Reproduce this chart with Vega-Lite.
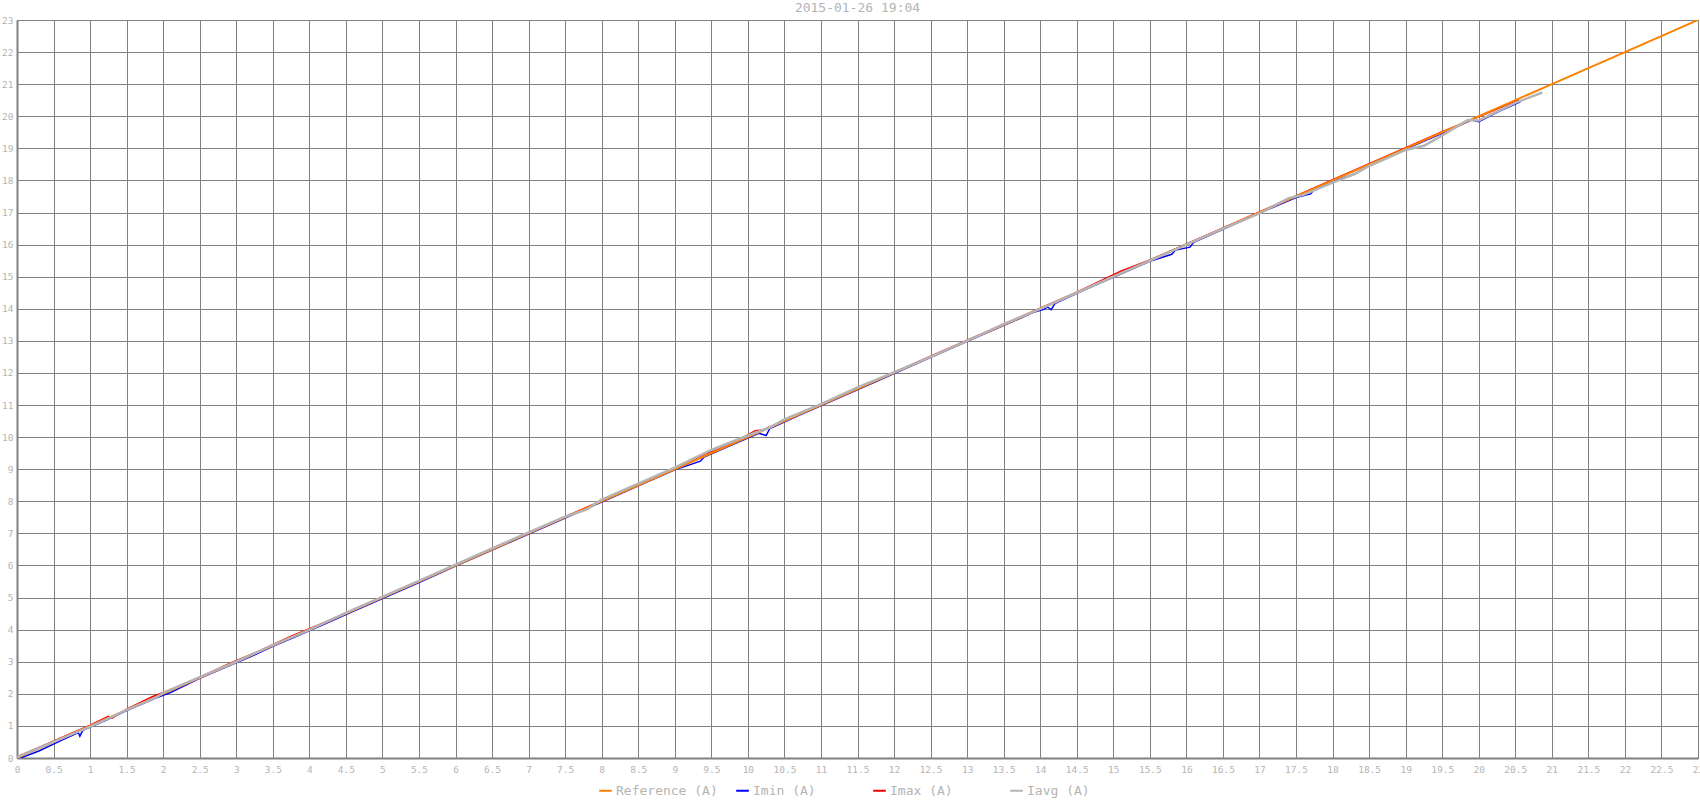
{
  "$schema": "https://vega.github.io/schema/vega-lite/v6.json",
  "autosize": "none",
  "width": 1681,
  "height": 738,
  "padding": {"left": 17, "top": 20, "right": 2, "bottom": 42},
  "title": {"text": "2015-01-26 19:04", "anchor": "middle", "offset": 0, "fontSize": 13, "fontWeight": "normal", "font": "DejaVu Sans Mono", "color": "#b4b4b4"},
  "config": {
    "view": {"stroke": "#808080", "strokeWidth": 1},
    "axis": {"labelFont": "DejaVu Sans Mono", "labelFontSize": 9.5, "labelColor": "#b4b4b4", "gridColor": "#808080", "gridOpacity": 1, "gridWidth": 1, "domainColor": "#808080", "domainWidth": 2, "ticks": false, "title": null},
    "legend": {"labelFont": "DejaVu Sans Mono", "labelFontSize": 13, "labelColor": "#b4b4b4"}
  },
  "data": {"values": [
    {"s": "Reference (A)", "x": 0, "y": 0}, {"s": "Reference (A)", "x": 1, "y": 1}, {"s": "Reference (A)", "x": 2, "y": 2}, {"s": "Reference (A)", "x": 3, "y": 3},
    {"s": "Reference (A)", "x": 4, "y": 4}, {"s": "Reference (A)", "x": 5, "y": 5}, {"s": "Reference (A)", "x": 6, "y": 6}, {"s": "Reference (A)", "x": 7, "y": 7},
    {"s": "Reference (A)", "x": 8, "y": 8}, {"s": "Reference (A)", "x": 9, "y": 9}, {"s": "Reference (A)", "x": 10, "y": 10}, {"s": "Reference (A)", "x": 11, "y": 11},
    {"s": "Reference (A)", "x": 12, "y": 12}, {"s": "Reference (A)", "x": 13, "y": 13}, {"s": "Reference (A)", "x": 14, "y": 14}, {"s": "Reference (A)", "x": 15, "y": 15},
    {"s": "Reference (A)", "x": 16, "y": 16}, {"s": "Reference (A)", "x": 17, "y": 17}, {"s": "Reference (A)", "x": 18, "y": 18}, {"s": "Reference (A)", "x": 19, "y": 19},
    {"s": "Reference (A)", "x": 20, "y": 20}, {"s": "Reference (A)", "x": 21, "y": 21}, {"s": "Reference (A)", "x": 22, "y": 22}, {"s": "Reference (A)", "x": 23, "y": 23},

    {"s": "Imin (A)", "x": 0.05, "y": 0.0}, {"s": "Imin (A)", "x": 0.3, "y": 0.22}, {"s": "Imin (A)", "x": 0.6, "y": 0.54}, {"s": "Imin (A)", "x": 0.84, "y": 0.79},
    {"s": "Imin (A)", "x": 0.86, "y": 0.68}, {"s": "Imin (A)", "x": 0.9, "y": 0.86}, {"s": "Imin (A)", "x": 1.2, "y": 1.16}, {"s": "Imin (A)", "x": 1.5, "y": 1.48},
    {"s": "Imin (A)", "x": 1.9, "y": 1.87}, {"s": "Imin (A)", "x": 2.1, "y": 2.04}, {"s": "Imin (A)", "x": 2.5, "y": 2.48}, {"s": "Imin (A)", "x": 2.9, "y": 2.87},
    {"s": "Imin (A)", "x": 3.2, "y": 3.16}, {"s": "Imin (A)", "x": 3.5, "y": 3.48}, {"s": "Imin (A)", "x": 3.8, "y": 3.77}, {"s": "Imin (A)", "x": 4.2, "y": 4.17},
    {"s": "Imin (A)", "x": 4.6, "y": 4.57}, {"s": "Imin (A)", "x": 5.0, "y": 4.97}, {"s": "Imin (A)", "x": 5.5, "y": 5.47}, {"s": "Imin (A)", "x": 6.0, "y": 5.98},
    {"s": "Imin (A)", "x": 6.5, "y": 6.48}, {"s": "Imin (A)", "x": 7.0, "y": 6.98}, {"s": "Imin (A)", "x": 7.5, "y": 7.48}, {"s": "Imin (A)", "x": 8.0, "y": 7.98},
    {"s": "Imin (A)", "x": 8.5, "y": 8.48}, {"s": "Imin (A)", "x": 9.0, "y": 8.98}, {"s": "Imin (A)", "x": 9.35, "y": 9.25}, {"s": "Imin (A)", "x": 9.4, "y": 9.38},
    {"s": "Imin (A)", "x": 9.8, "y": 9.78}, {"s": "Imin (A)", "x": 10.15, "y": 10.12}, {"s": "Imin (A)", "x": 10.25, "y": 10.05}, {"s": "Imin (A)", "x": 10.3, "y": 10.27},
    {"s": "Imin (A)", "x": 10.7, "y": 10.68}, {"s": "Imin (A)", "x": 11.2, "y": 11.18}, {"s": "Imin (A)", "x": 11.7, "y": 11.68}, {"s": "Imin (A)", "x": 12.2, "y": 12.18},
    {"s": "Imin (A)", "x": 12.8, "y": 12.78}, {"s": "Imin (A)", "x": 13.3, "y": 13.28}, {"s": "Imin (A)", "x": 13.9, "y": 13.88}, {"s": "Imin (A)", "x": 14.05, "y": 13.98},
    {"s": "Imin (A)", "x": 14.1, "y": 14.06}, {"s": "Imin (A)", "x": 14.15, "y": 13.97}, {"s": "Imin (A)", "x": 14.2, "y": 14.16}, {"s": "Imin (A)", "x": 14.6, "y": 14.58},
    {"s": "Imin (A)", "x": 15.1, "y": 15.08}, {"s": "Imin (A)", "x": 15.5, "y": 15.48}, {"s": "Imin (A)", "x": 15.8, "y": 15.7}, {"s": "Imin (A)", "x": 15.85, "y": 15.83},
    {"s": "Imin (A)", "x": 16.05, "y": 15.92}, {"s": "Imin (A)", "x": 16.1, "y": 16.07}, {"s": "Imin (A)", "x": 16.5, "y": 16.48}, {"s": "Imin (A)", "x": 17.0, "y": 16.98},
    {"s": "Imin (A)", "x": 17.5, "y": 17.47}, {"s": "Imin (A)", "x": 17.7, "y": 17.58}, {"s": "Imin (A)", "x": 17.75, "y": 17.72}, {"s": "Imin (A)", "x": 18.0, "y": 17.98},
    {"s": "Imin (A)", "x": 18.3, "y": 18.2}, {"s": "Imin (A)", "x": 18.5, "y": 18.47}, {"s": "Imin (A)", "x": 19.0, "y": 18.98}, {"s": "Imin (A)", "x": 19.5, "y": 19.47},
    {"s": "Imin (A)", "x": 19.9, "y": 19.88}, {"s": "Imin (A)", "x": 20.0, "y": 19.83}, {"s": "Imin (A)", "x": 20.3, "y": 20.18}, {"s": "Imin (A)", "x": 20.57, "y": 20.45},

    {"s": "Imax (A)", "x": 0.0, "y": 0.04}, {"s": "Imax (A)", "x": 0.3, "y": 0.33}, {"s": "Imax (A)", "x": 0.7, "y": 0.73}, {"s": "Imax (A)", "x": 1.0, "y": 1.02},
    {"s": "Imax (A)", "x": 1.25, "y": 1.3}, {"s": "Imax (A)", "x": 1.3, "y": 1.24}, {"s": "Imax (A)", "x": 1.5, "y": 1.52}, {"s": "Imax (A)", "x": 1.85, "y": 1.91},
    {"s": "Imax (A)", "x": 2.2, "y": 2.22}, {"s": "Imax (A)", "x": 2.5, "y": 2.52}, {"s": "Imax (A)", "x": 2.9, "y": 2.94}, {"s": "Imax (A)", "x": 3.3, "y": 3.32},
    {"s": "Imax (A)", "x": 3.75, "y": 3.8}, {"s": "Imax (A)", "x": 4.2, "y": 4.22}, {"s": "Imax (A)", "x": 4.6, "y": 4.62}, {"s": "Imax (A)", "x": 5.0, "y": 5.02},
    {"s": "Imax (A)", "x": 5.5, "y": 5.52}, {"s": "Imax (A)", "x": 6.0, "y": 6.02}, {"s": "Imax (A)", "x": 6.5, "y": 6.52}, {"s": "Imax (A)", "x": 7.0, "y": 7.02},
    {"s": "Imax (A)", "x": 7.5, "y": 7.52}, {"s": "Imax (A)", "x": 8.0, "y": 8.02}, {"s": "Imax (A)", "x": 8.5, "y": 8.52}, {"s": "Imax (A)", "x": 9.0, "y": 9.02},
    {"s": "Imax (A)", "x": 9.4, "y": 9.46}, {"s": "Imax (A)", "x": 9.8, "y": 9.82}, {"s": "Imax (A)", "x": 10.1, "y": 10.2}, {"s": "Imax (A)", "x": 10.2, "y": 10.22},
    {"s": "Imax (A)", "x": 10.6, "y": 10.62}, {"s": "Imax (A)", "x": 11.0, "y": 11.02}, {"s": "Imax (A)", "x": 11.5, "y": 11.52}, {"s": "Imax (A)", "x": 12.0, "y": 12.02},
    {"s": "Imax (A)", "x": 12.5, "y": 12.52}, {"s": "Imax (A)", "x": 13.0, "y": 13.02}, {"s": "Imax (A)", "x": 13.5, "y": 13.52}, {"s": "Imax (A)", "x": 14.0, "y": 14.02},
    {"s": "Imax (A)", "x": 14.5, "y": 14.52}, {"s": "Imax (A)", "x": 15.1, "y": 15.17}, {"s": "Imax (A)", "x": 15.5, "y": 15.52}, {"s": "Imax (A)", "x": 16.0, "y": 16.02},
    {"s": "Imax (A)", "x": 16.5, "y": 16.52}, {"s": "Imax (A)", "x": 17.0, "y": 17.02}, {"s": "Imax (A)", "x": 17.5, "y": 17.52}, {"s": "Imax (A)", "x": 18.0, "y": 18.02},
    {"s": "Imax (A)", "x": 18.4, "y": 18.42}, {"s": "Imax (A)", "x": 19.0, "y": 19.02}, {"s": "Imax (A)", "x": 19.5, "y": 19.52}, {"s": "Imax (A)", "x": 20.0, "y": 19.98},
    {"s": "Imax (A)", "x": 20.3, "y": 20.27}, {"s": "Imax (A)", "x": 20.55, "y": 20.52},

    {"s": "Iavg (A)", "x": 0.0, "y": 0.03}, {"s": "Iavg (A)", "x": 0.5, "y": 0.5}, {"s": "Iavg (A)", "x": 1.0, "y": 0.98}, {"s": "Iavg (A)", "x": 1.2, "y": 1.18},
    {"s": "Iavg (A)", "x": 1.5, "y": 1.5}, {"s": "Iavg (A)", "x": 1.9, "y": 1.88}, {"s": "Iavg (A)", "x": 2.0, "y": 2.03}, {"s": "Iavg (A)", "x": 2.5, "y": 2.52},
    {"s": "Iavg (A)", "x": 3.0, "y": 3.0}, {"s": "Iavg (A)", "x": 3.5, "y": 3.52}, {"s": "Iavg (A)", "x": 4.0, "y": 3.99}, {"s": "Iavg (A)", "x": 4.5, "y": 4.52},
    {"s": "Iavg (A)", "x": 5.0, "y": 5.02}, {"s": "Iavg (A)", "x": 5.5, "y": 5.52}, {"s": "Iavg (A)", "x": 6.0, "y": 6.03}, {"s": "Iavg (A)", "x": 6.5, "y": 6.53},
    {"s": "Iavg (A)", "x": 7.0, "y": 7.03}, {"s": "Iavg (A)", "x": 7.5, "y": 7.52}, {"s": "Iavg (A)", "x": 7.8, "y": 7.75}, {"s": "Iavg (A)", "x": 8.0, "y": 8.05},
    {"s": "Iavg (A)", "x": 8.5, "y": 8.55}, {"s": "Iavg (A)", "x": 9.0, "y": 9.05}, {"s": "Iavg (A)", "x": 9.5, "y": 9.6}, {"s": "Iavg (A)", "x": 10.0, "y": 10.05},
    {"s": "Iavg (A)", "x": 10.3, "y": 10.3}, {"s": "Iavg (A)", "x": 10.5, "y": 10.55}, {"s": "Iavg (A)", "x": 11.0, "y": 11.03}, {"s": "Iavg (A)", "x": 11.5, "y": 11.55},
    {"s": "Iavg (A)", "x": 12.0, "y": 12.02}, {"s": "Iavg (A)", "x": 12.5, "y": 12.5}, {"s": "Iavg (A)", "x": 13.0, "y": 13.0}, {"s": "Iavg (A)", "x": 13.5, "y": 13.52},
    {"s": "Iavg (A)", "x": 14.0, "y": 14.0}, {"s": "Iavg (A)", "x": 14.5, "y": 14.5}, {"s": "Iavg (A)", "x": 15.0, "y": 15.0}, {"s": "Iavg (A)", "x": 15.5, "y": 15.5},
    {"s": "Iavg (A)", "x": 16.0, "y": 16.0}, {"s": "Iavg (A)", "x": 16.5, "y": 16.5}, {"s": "Iavg (A)", "x": 17.0, "y": 16.97}, {"s": "Iavg (A)", "x": 17.4, "y": 17.45},
    {"s": "Iavg (A)", "x": 17.6, "y": 17.55}, {"s": "Iavg (A)", "x": 18.0, "y": 17.93}, {"s": "Iavg (A)", "x": 18.3, "y": 18.2}, {"s": "Iavg (A)", "x": 18.5, "y": 18.45},
    {"s": "Iavg (A)", "x": 19.0, "y": 18.95}, {"s": "Iavg (A)", "x": 19.25, "y": 19.08}, {"s": "Iavg (A)", "x": 19.5, "y": 19.4}, {"s": "Iavg (A)", "x": 19.85, "y": 19.88},
    {"s": "Iavg (A)", "x": 20.0, "y": 19.87}, {"s": "Iavg (A)", "x": 20.5, "y": 20.42}, {"s": "Iavg (A)", "x": 20.87, "y": 20.74}
  ]},
  "encoding": {
    "x": {"field": "x", "type": "quantitative", "scale": {"domain": [0, 23], "nice": false},
      "axis": {"values": [0,0.5,1,1.5,2,2.5,3,3.5,4,4.5,5,5.5,6,6.5,7,7.5,8,8.5,9,9.5,10,10.5,11,11.5,12,12.5,13,13.5,14,14.5,15,15.5,16,16.5,17,17.5,18,18.5,19,19.5,20,20.5,21,21.5,22,22.5,23], "format": ".1~f", "labelPadding": 6, "labelFlush": false, "labelOverlap": false}},
    "y": {"field": "y", "type": "quantitative", "scale": {"domain": [0, 23], "nice": false},
      "axis": {"values": [0,1,2,3,4,5,6,7,8,9,10,11,12,13,14,15,16,17,18,19,20,21,22,23], "labelPadding": 4, "labelFlush": false, "labelOverlap": false}},
    "color": {"field": "s", "type": "nominal",
      "scale": {"domain": ["Reference (A)", "Imin (A)", "Imax (A)", "Iavg (A)"], "range": ["#ff8000", "#0000ff", "#ff0000", "#b4b4b4"]},
      "legend": {"title": null, "orient": "none", "legendX": 581, "legendY": 763, "direction": "horizontal", "columns": 4, "gridAlign": "all", "columnPadding": 14, "symbolType": "stroke", "symbolSize": 160, "symbolStrokeWidth": 2, "labelOffset": 3}},
    "order": {"field": "x", "type": "quantitative"}
  },
  "layer": [
    {"transform": [{"filter": "datum.s === 'Imin (A)'"}], "mark": {"type": "line", "strokeWidth": 1.5, "clip": true}},
    {"transform": [{"filter": "datum.s === 'Imax (A)'"}], "mark": {"type": "line", "strokeWidth": 1.5, "clip": true}},
    {"transform": [{"filter": "datum.s === 'Reference (A)'"}], "mark": {"type": "line", "strokeWidth": 2, "clip": true}},
    {"transform": [{"filter": "datum.s === 'Iavg (A)'"}], "mark": {"type": "line", "strokeWidth": 2.5, "clip": true}}
  ]
}
